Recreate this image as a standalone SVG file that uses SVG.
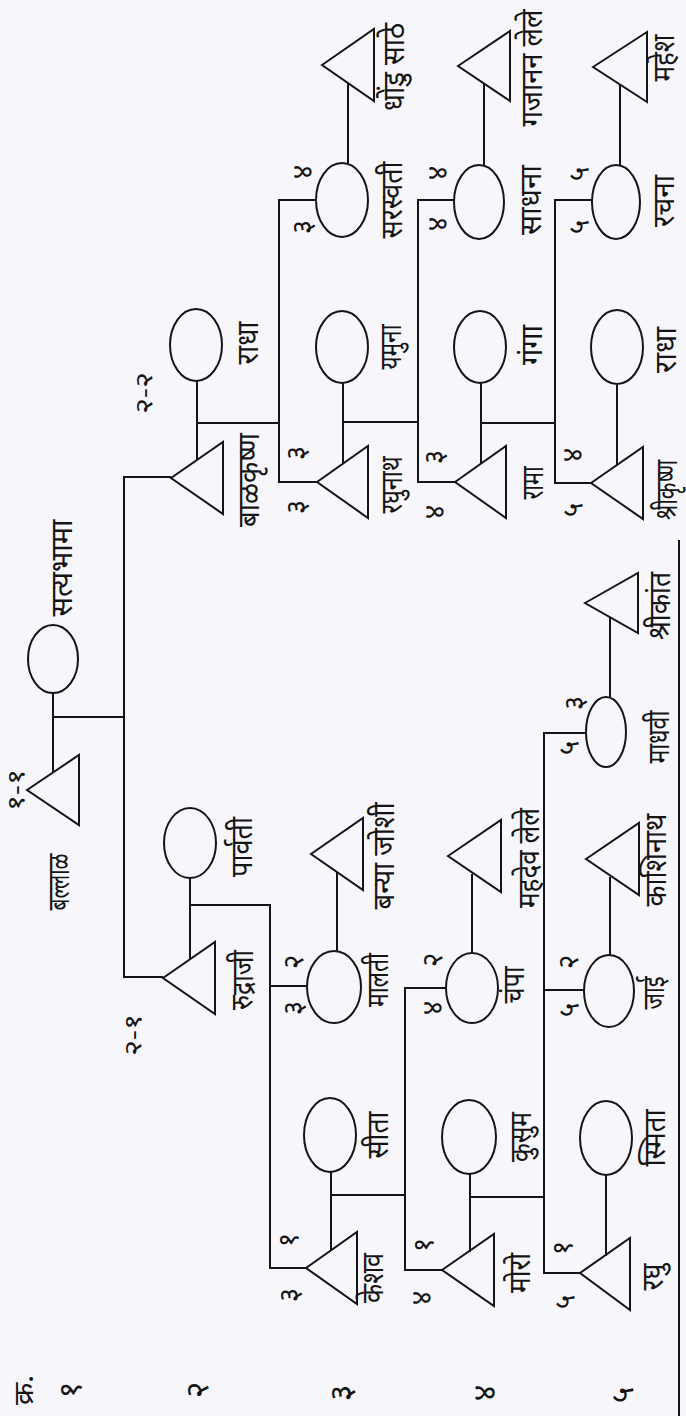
<svg xmlns="http://www.w3.org/2000/svg" width="686" height="1416" viewBox="0 0 686 1416">
<style>
.bg{fill:#f7f6fb}
.s{fill:none;stroke:#151515;stroke-width:2}
.l{fill:none;stroke:#151515;stroke-width:2}
.t{font-family:"Noto Sans","Noto Sans Devanagari","Lohit Devanagari","FreeSans",sans-serif;font-size:30px;fill:#151515;text-anchor:middle;dominant-baseline:central}
.n{font-family:"Noto Sans","Noto Sans Devanagari","Lohit Devanagari","FreeSans",sans-serif;font-size:28px;fill:#151515;text-anchor:middle;dominant-baseline:central}
.g{font-family:"Noto Sans","Noto Sans Devanagari","Lohit Devanagari","FreeSans",sans-serif;font-size:24px;fill:#151515;text-anchor:middle;dominant-baseline:central}
.r{font-family:"Noto Sans","Noto Sans Devanagari","Lohit Devanagari","FreeSans",sans-serif;font-size:32px;fill:#151515;text-anchor:middle;dominant-baseline:central}
</style>
<rect class="bg" x="0" y="0" width="686" height="1416"/>

<g id="connectors">
  <path class="l" d="M53,693 V772"/>
  <path class="l" d="M53,717 H124"/>
  <path class="l" d="M171,477 H124 V977 H163"/>
  <path class="l" d="M197,381 V460"/>
  <path class="l" d="M197,423 H279"/>
  <path class="l" d="M316,200 H279 V482 H317"/>
  <path class="l" d="M190,878 V959"/>
  <path class="l" d="M190,905 H270 V1268 H306"/>
  <path class="l" d="M270,986 H307"/>
  <path class="l" d="M337,872 V951"/>
  <path class="l" d="M331,1172 V1250"/>
  <path class="l" d="M331,1195 H405"/>
  <path class="l" d="M446,988 H405 V1270 H442"/>
  <path class="l" d="M348,83 V163"/>
  <path class="l" d="M343,383 V464"/>
  <path class="l" d="M343,422 H418"/>
  <path class="l" d="M454,200 H418 V482 H455"/>
  <path class="l" d="M484,84 V165"/>
  <path class="l" d="M481,383 V464"/>
  <path class="l" d="M481,423 H555"/>
  <path class="l" d="M592,200 H555 V483 H591"/>
  <path class="l" d="M620,85 V165"/>
  <path class="l" d="M617,384 V465"/>
  <path class="l" d="M472,874 V953"/>
  <path class="l" d="M470,1174 V1252"/>
  <path class="l" d="M470,1197 H544"/>
  <path class="l" d="M586,733 H544 V1273 H580"/>
  <path class="l" d="M544,990 H584"/>
  <path class="l" d="M606,1175 V1256"/>
  <path class="l" d="M610,877 V955"/>
  <path class="l" d="M610,617 V697"/>
  <path class="l" d="M679,540 V1416"/>
</g>

<g id="ballal">
  <polygon class="s" points="27,790 79,755 79,825"/>
  <text class="g" transform="translate(14,790) rotate(-90)" textLength="42" lengthAdjust="spacingAndGlyphs">१-१</text>
  <text class="t" transform="translate(57,882) rotate(-90)" textLength="57" lengthAdjust="spacingAndGlyphs">बल्लाळ</text>
</g>
<g id="satyabhama">
  <ellipse class="s" cx="53" cy="659" rx="25" ry="34"/>
  <text class="t" transform="translate(60,568) rotate(-90)" textLength="97" lengthAdjust="spacingAndGlyphs">सत्यभामा</text>
</g>

<g id="balkrishna">
  <polygon class="s" points="171,478 223,442 223,514"/>
  <text class="g" transform="translate(142,393) rotate(-90)" textLength="42" lengthAdjust="spacingAndGlyphs">२-२</text>
  <text class="t" transform="translate(247,480) rotate(-90)" textLength="94" lengthAdjust="spacingAndGlyphs">बाळकृष्ण</text>
</g>
<g id="radha-2">
  <ellipse class="s" cx="196" cy="345" rx="26" ry="36"/>
  <text class="t" transform="translate(246,343) rotate(-90)" textLength="43" lengthAdjust="spacingAndGlyphs">राधा</text>
</g>
<g id="rudraji">
  <polygon class="s" points="163,978 215,942 215,1014"/>
  <text class="g" transform="translate(131,1035) rotate(-90)" textLength="42" lengthAdjust="spacingAndGlyphs">२-१</text>
  <text class="t" transform="translate(241,980) rotate(-90)" textLength="60" lengthAdjust="spacingAndGlyphs">रुद्राजी</text>
</g>
<g id="parvati">
  <ellipse class="s" cx="190" cy="843" rx="26" ry="35"/>
  <text class="t" transform="translate(240,847) rotate(-90)" textLength="60" lengthAdjust="spacingAndGlyphs">पार्वती</text>
</g>

<g id="malati">
  <ellipse class="s" cx="334" cy="987" rx="27" ry="36"/>
  <text class="n" transform="translate(292,962) rotate(-90)">२</text>
  <text class="n" transform="translate(292,1008) rotate(-90)">३</text>
  <text class="t" transform="translate(376,980) rotate(-90)" textLength="54" lengthAdjust="spacingAndGlyphs">मालती</text>
</g>
<g id="banya-joshi">
  <polygon class="s" points="311,854 363,818 363,890"/>
  <text class="t" transform="translate(382,856) rotate(-90)" textLength="107" lengthAdjust="spacingAndGlyphs">बन्या जोशी</text>
</g>
<g id="keshav">
  <polygon class="s" points="306,1268 357,1232 357,1304"/>
  <text class="n" transform="translate(287,1240) rotate(-90)">१</text>
  <text class="n" transform="translate(288,1295) rotate(-90)">३</text>
  <text class="t" transform="translate(371,1278) rotate(-90)" textLength="50" lengthAdjust="spacingAndGlyphs">केशव</text>
</g>
<g id="sita">
  <ellipse class="s" cx="330" cy="1135" rx="26" ry="37"/>
  <text class="t" transform="translate(376,1135) rotate(-90)" textLength="47" lengthAdjust="spacingAndGlyphs">सीता</text>
</g>

<g id="saraswati">
  <ellipse class="s" cx="342" cy="200" rx="26" ry="37"/>
  <text class="n" transform="translate(301,172) rotate(-90)">४</text>
  <text class="n" transform="translate(301,227) rotate(-90)">३</text>
  <text class="t" transform="translate(390,200) rotate(-90)" textLength="77" lengthAdjust="spacingAndGlyphs">सरस्वती</text>
</g>
<g id="dhondu-sathe">
  <polygon class="s" points="322,65 374,29 374,101"/>
  <text class="t" transform="translate(392,67) rotate(-90)" textLength="88" lengthAdjust="spacingAndGlyphs">धोंडु साठे</text>
</g>
<g id="raghunath">
  <polygon class="s" points="317,482 368,446 368,518"/>
  <text class="n" transform="translate(295,453) rotate(-90)">३</text>
  <text class="n" transform="translate(295,507) rotate(-90)">३</text>
  <text class="t" transform="translate(390,485) rotate(-90)" textLength="57" lengthAdjust="spacingAndGlyphs">रघुनाथ</text>
</g>
<g id="yamuna">
  <ellipse class="s" cx="342" cy="347" rx="26" ry="36"/>
  <text class="t" transform="translate(389,347) rotate(-90)" textLength="45" lengthAdjust="spacingAndGlyphs">यमुना</text>
</g>

<g id="sadhana">
  <ellipse class="s" cx="479" cy="202" rx="25" ry="37"/>
  <text class="n" transform="translate(436,173) rotate(-90)">४</text>
  <text class="n" transform="translate(436,224) rotate(-90)">४</text>
  <text class="t" transform="translate(529,200) rotate(-90)" textLength="70" lengthAdjust="spacingAndGlyphs">साधना</text>
</g>
<g id="gajanan-lele">
  <polygon class="s" points="458,66 510,31 510,101"/>
  <text class="t" transform="translate(530,68) rotate(-90)" textLength="117" lengthAdjust="spacingAndGlyphs">गजानन लेले</text>
</g>
<g id="rama">
  <polygon class="s" points="455,482 506,446 506,518"/>
  <text class="n" transform="translate(433,457) rotate(-90)">३</text>
  <text class="n" transform="translate(433,512) rotate(-90)">४</text>
  <text class="t" transform="translate(531,483) rotate(-90)" textLength="33" lengthAdjust="spacingAndGlyphs">रामा</text>
</g>
<g id="ganga">
  <ellipse class="s" cx="480" cy="347" rx="26" ry="36"/>
  <text class="t" transform="translate(530,345) rotate(-90)" textLength="40" lengthAdjust="spacingAndGlyphs">गंगा</text>
</g>

<g id="rachna">
  <ellipse class="s" cx="616" cy="202" rx="24" ry="37"/>
  <text class="n" transform="translate(577,174) rotate(-90)">५</text>
  <text class="n" transform="translate(577,227) rotate(-90)">५</text>
  <text class="t" transform="translate(662,201) rotate(-90)" textLength="52" lengthAdjust="spacingAndGlyphs">रचना</text>
</g>
<g id="mahesh">
  <polygon class="s" points="593,67 647,32 647,102"/>
  <text class="t" transform="translate(662,58) rotate(-90)" textLength="47" lengthAdjust="spacingAndGlyphs">महेश</text>
</g>
<g id="shrikrishna">
  <polygon class="s" points="591,483 643,447 643,519"/>
  <text class="n" transform="translate(571,455) rotate(-90)">४</text>
  <text class="n" transform="translate(571,510) rotate(-90)">५</text>
  <text class="t" transform="translate(665,490) rotate(-90)" textLength="60" lengthAdjust="spacingAndGlyphs">श्रीकृष्ण</text>
</g>
<g id="radha-5">
  <ellipse class="s" cx="617" cy="347" rx="26" ry="37"/>
  <text class="t" transform="translate(664,350) rotate(-90)" textLength="46" lengthAdjust="spacingAndGlyphs">राधा</text>
</g>

<g id="champa">
  <ellipse class="s" cx="472" cy="988" rx="26" ry="35"/>
  <text class="n" transform="translate(431,960) rotate(-90)">२</text>
  <text class="n" transform="translate(431,1008) rotate(-90)">४</text>
  <text class="t" transform="translate(512,985) rotate(-90)" textLength="37" lengthAdjust="spacingAndGlyphs">चंपा</text>
</g>
<g id="mahadev-lele">
  <polygon class="s" points="448,856 501,820 501,892"/>
  <text class="t" transform="translate(527,858) rotate(-90)" textLength="100" lengthAdjust="spacingAndGlyphs">महदेव लेले</text>
</g>
<g id="moro">
  <polygon class="s" points="442,1270 494,1234 494,1306"/>
  <text class="n" transform="translate(422,1245) rotate(-90)">१</text>
  <text class="n" transform="translate(420,1298) rotate(-90)">४</text>
  <text class="t" transform="translate(518,1273) rotate(-90)" textLength="40" lengthAdjust="spacingAndGlyphs">मोरो</text>
</g>
<g id="kusum">
  <ellipse class="s" cx="469" cy="1137" rx="27" ry="37"/>
  <text class="t" transform="translate(519,1137) rotate(-90)" textLength="50" lengthAdjust="spacingAndGlyphs">कुसुम</text>
</g>

<g id="raghu">
  <polygon class="s" points="580,1273 630,1238 630,1310"/>
  <text class="n" transform="translate(561,1248) rotate(-90)">१</text>
  <text class="n" transform="translate(563,1302) rotate(-90)">५</text>
  <text class="t" transform="translate(651,1277) rotate(-90)" textLength="27" lengthAdjust="spacingAndGlyphs">रघु</text>
</g>
<g id="smita">
  <ellipse class="s" cx="606" cy="1138" rx="26" ry="37"/>
  <text class="t" transform="translate(653,1138) rotate(-90)" textLength="57" lengthAdjust="spacingAndGlyphs">स्मिता</text>
</g>
<g id="jai">
  <ellipse class="s" cx="609" cy="991" rx="25" ry="36"/>
  <text class="n" transform="translate(567,962) rotate(-90)">२</text>
  <text class="n" transform="translate(567,1010) rotate(-90)">५</text>
  <text class="t" transform="translate(652,993) rotate(-90)" textLength="33" lengthAdjust="spacingAndGlyphs">जाई</text>
</g>
<g id="kashinath">
  <polygon class="s" points="586,859 639,823 639,895"/>
  <text class="t" transform="translate(654,860) rotate(-90)" textLength="93" lengthAdjust="spacingAndGlyphs">काशिनाथ</text>
</g>
<g id="madhavi">
  <ellipse class="s" cx="606" cy="732" rx="20" ry="35"/>
  <text class="n" transform="translate(573,703) rotate(-90)">३</text>
  <text class="n" transform="translate(567,748) rotate(-90)">५</text>
  <text class="t" transform="translate(657,737) rotate(-90)" textLength="53" lengthAdjust="spacingAndGlyphs">माधवी</text>
</g>
<g id="shrikant">
  <polygon class="s" points="585,603 638,573 638,633"/>
  <text class="t" transform="translate(658,606) rotate(-90)" textLength="68" lengthAdjust="spacingAndGlyphs">श्रीकांत</text>
</g>

<g id="row-labels">
  <text class="n" transform="translate(22,1390) rotate(-90)" textLength="30" lengthAdjust="spacingAndGlyphs">क्र.</text>
  <text class="r" transform="translate(68,1390) rotate(-90)">१</text>
  <text class="r" transform="translate(195,1390) rotate(-90)">२</text>
  <text class="r" transform="translate(339,1393) rotate(-90)">३</text>
  <text class="r" transform="translate(482,1393) rotate(-90)">४</text>
  <text class="r" transform="translate(620,1395) rotate(-90)">५</text>
</g>
</svg>
